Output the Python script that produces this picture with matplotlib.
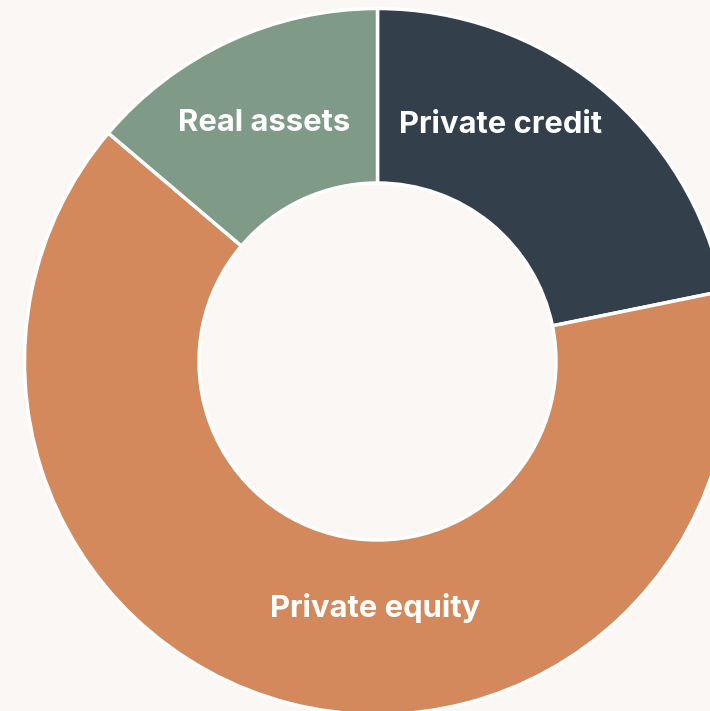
import matplotlib
matplotlib.use("Agg")
import matplotlib.pyplot as plt

# allocation shares, clockwise from 12 o'clock
segments = ["Private credit", "Private equity", "Real assets"]
shares = [21.8, 64.4, 13.8]
colors = ["#333f4a", "#d4895c", "#7f9a87"]

# where each label sits, in pixel space of the canvas
label_xy = [(501, 125), (375, 608), (264, 123)]

bg = "#fbf7f4"
W, H = 710, 711

fig = plt.figure(figsize=(W / 100, H / 100), dpi=100, facecolor=bg)
ax = fig.add_axes([0, 0, 1, 1])
ax.set_facecolor(bg)

cx, cy = 377.5, H - 361.5
r_out, r_in = 353, 178.5

ax.pie(shares, colors=colors, startangle=90, counterclock=False,
       center=(cx, cy), radius=r_out,
       wedgeprops=dict(width=r_out - r_in, edgecolor="white", linewidth=2.5))

for name, (x, y) in zip(segments, label_xy):
    ax.text(x, H - y, name, ha="center", va="center", color="white",
            fontsize=22.3, fontweight="bold", family=["Inter", "DejaVu Sans"])

ax.set_xlim(0, W)
ax.set_ylim(0, H)
ax.set_aspect("equal")
ax.axis("off")

fig.savefig("out.png", dpi=100, facecolor=bg)
